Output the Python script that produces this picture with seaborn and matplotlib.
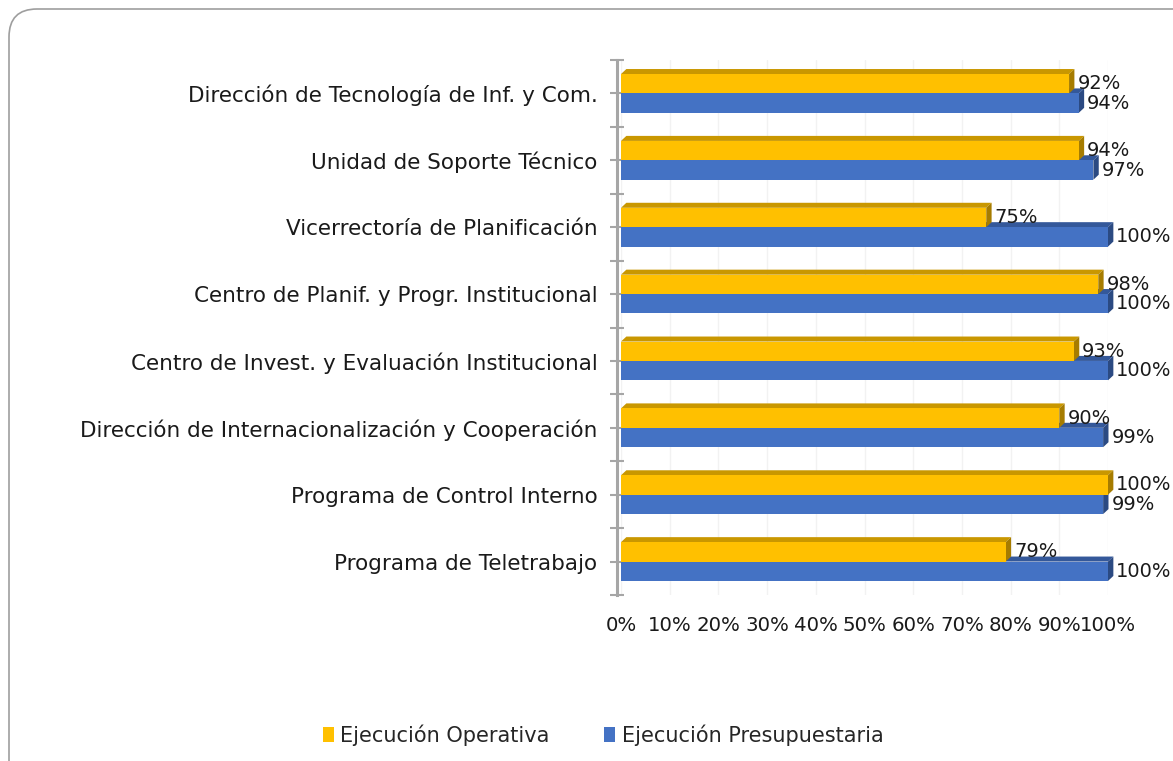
import matplotlib
matplotlib.use("Agg")
import matplotlib.pyplot as plt
import matplotlib.transforms as mtransforms
from matplotlib.patches import Polygon, FancyBboxPatch
from matplotlib.ticker import FixedLocator
import pandas as pd
import seaborn as sns

# --- data ---
categorias = [
    "Dirección de Tecnología de Inf. y Com.",
    "Unidad de Soporte Técnico",
    "Vicerrectoría de Planificación",
    "Centro de Planif. y Progr. Institucional",
    "Centro de Invest. y Evaluación Institucional",
    "Dirección de Internacionalización y Cooperación",
    "Programa de Control Interno",
    "Programa de Teletrabajo",
]
ejec_operativa = [92, 94, 75, 98, 93, 90, 100, 79]
ejec_presupuestaria = [94, 97, 100, 100, 100, 99, 99, 100]
series = ["Ejecución Operativa", "Ejecución Presupuestaria"]
x_ticks = [0, 10, 20, 30, 40, 50, 60, 70, 80, 90, 100]

df = pd.DataFrame({
    "categoria": categorias * 2,
    "valor": ejec_operativa + ejec_presupuestaria,
    "serie": [series[0]] * len(categorias) + [series[1]] * len(categorias),
})

# colours: front, top, side
front = {series[0]: "#FFC000", series[1]: "#4472C4"}
top = {series[0]: "#C99700", series[1]: "#34589A"}
side = {series[0]: "#A67C00", series[1]: "#2B4A82"}

sns.set_style("white")
plt.rcParams["font.family"] = ["DejaVu Sans"]

fig = plt.figure(figsize=(11.73, 7.61), dpi=100)
ax = fig.add_axes([621 / 1173, 1 - 595 / 761, 487 / 1173, 535 / 761])

sns.barplot(data=df, y="categoria", x="valor", hue="serie", orient="h",
            palette=[front[s] for s in series], hue_order=series,
            width=0.58, saturation=1, legend=False, ax=ax, zorder=3,
            linewidth=0, edgecolor="none")

# fake 3D depth on each bar (top + right faces)
dx, dy = 1.1, 0.075
for cont, s, z in zip(ax.containers, series, [2.2, 2.0]):
    for bar in cont:
        x0 = bar.get_x()
        x1 = x0 + bar.get_width()
        ya = bar.get_y()
        yb = ya + bar.get_height()
        y_up = min(ya, yb)
        y_dn = max(ya, yb)
        ax.add_patch(Polygon([(x0, y_up), (x1, y_up), (x1 + dx, y_up - dy), (x0 + dx, y_up - dy)],
                             closed=True, facecolor=top[s], edgecolor="none", zorder=z,
                             clip_on=False))
        ax.add_patch(Polygon([(x1, y_up), (x1 + dx, y_up - dy), (x1 + dx, y_dn - dy), (x1, y_dn)],
                             closed=True, facecolor=side[s], edgecolor="none", zorder=z + 0.1,
                             clip_on=False))

# value labels, nudged a bit down like the original
for cont, vals in zip(ax.containers, [ejec_operativa, ejec_presupuestaria]):
    txts = ax.bar_label(cont, labels=[f"{v}%" for v in vals], padding=6, fontsize=14,
                        color="#1a1a1a", clip_on=False, zorder=5)
    for t in txts:
        t.set_transform(t.get_transform() + mtransforms.ScaledTranslation(0, -2 / 100, fig.dpi_scale_trans))

ax.set_xlim(0, 100)
ax.set_ylim(len(categorias) - 0.5, -0.5)
ax.set_xticks(x_ticks)
ax.set_xticklabels([f"{t}%" for t in x_ticks])
ax.set_xlabel("")
ax.set_ylabel("")
ax.grid(axis="x", color="#F2F2F2", linewidth=1, zorder=0)
ax.set_axisbelow(True)

for sp in ["top", "right", "bottom"]:
    ax.spines[sp].set_visible(False)
ax.spines["left"].set_color("#A6A6A6")
ax.spines["left"].set_linewidth(2.2)
ax.spines["left"].set_position(("outward", 3))

ax.yaxis.set_minor_locator(FixedLocator([i - 0.5 for i in range(len(categorias) + 1)]))
ax.tick_params(axis="y", which="both", direction="inout", length=10, width=1.5,
               color="#A6A6A6", labelsize=15.5, pad=9, left=True)
ax.tick_params(axis="x", length=0, labelsize=14.2, pad=15)
for lab in ax.get_yticklabels():
    lab.set_color("#1a1a1a")
for lab in ax.get_xticklabels():
    lab.set_color("#1a1a1a")

# legend
handles = [plt.Rectangle((0, 0), 1, 1, facecolor=front[s], edgecolor="none") for s in series]
fig.legend(handles, series, loc="center", bbox_to_anchor=(0.514, 1 - 735 / 761), ncol=2,
           frameon=False, fontsize=15, handlelength=0.55, handleheight=0.8,
           handletextpad=0.3, columnspacing=2.6)

# rounded outer frame
frame = FancyBboxPatch((9, -40), 1250, 761 - 9 + 40,
                       boxstyle="round,pad=0,rounding_size=28",
                       transform=mtransforms.IdentityTransform(),
                       facecolor="none", edgecolor="#9E9E9E", linewidth=1.2)
fig.patches.append(frame)

fig.savefig("out.png", dpi=100)
